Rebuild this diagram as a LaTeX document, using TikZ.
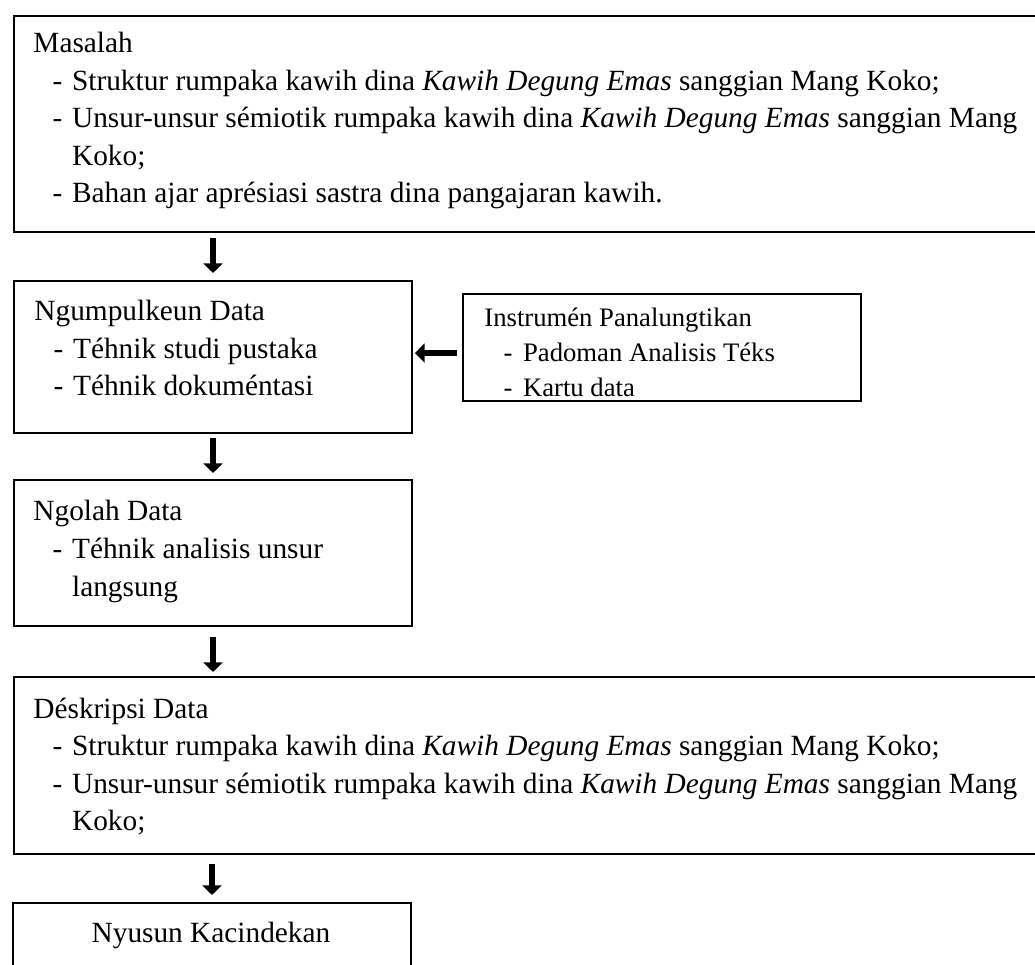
\documentclass[tikz,border=0pt]{standalone}
\usepackage{fontspec}
\setmainfont{Liberation Serif}
\usepackage{tikz}
\usetikzlibrary{arrows.meta}
\newcommand{\butir}[1]{\hspace*{8.6pt}\makebox[8.8pt][l]{-}#1}
\newcommand{\lanjut}{\hspace*{17.4pt}}
\tikzset{
	kotak/.style={draw,line width=0.9pt,anchor=north west,inner sep=0pt},
	isi/.style={anchor=base west,align=left,inner sep=0pt,font=\fontsize{13.2pt}{16.9pt}\selectfont},
	panah/.style={line width=3pt,-{Triangle[width=8.5pt,length=4.3pt]}}
}
\begin{document}
\begin{tikzpicture}[x=0.45pt,y=-0.45pt]
				\clip (0,0) rectangle (1035,965);
				\node [kotak,minimum width=464.4pt,minimum height=97.2pt] (masalah) at (13,15) {};
				\node [kotak,minimum width=179.1pt,minimum height=68.4pt] (ngumpul) at (13,280) {};
				\node [kotak,minimum width=179.1pt,minimum height=48.15pt] (instrumen) at (462,293) {};
				\node [kotak,minimum width=179.1pt,minimum height=65.7pt] (ngolah) at (13,479) {};
				\node [kotak,minimum width=464.4pt,minimum height=79.65pt] (deskripsi) at (13,676) {};
				\node [kotak,minimum width=179.1pt,minimum height=32.85pt] (nyusun) at (12,902) {};
				% anchor base west = baseline of the last line
				\node [isi] (masalah-isi) at (33,203) {Masalah\\
					\butir{Struktur rumpaka kawih dina \textit{Kawih Degung Emas} sanggian Mang Koko;}\\
					\butir{Unsur-unsur sémiotik rumpaka kawih dina \textit{Kawih Degung Emas} sanggian Mang}\\
					\lanjut Koko;\\
					\butir{Bahan ajar aprésiasi sastra dina pangajaran kawih.}};
				\node [isi] (ngumpul-isi) at (34,396) {Ngumpulkeun Data\\
					\butir{Téhnik studi pustaka}\\
					\butir{Téhnik dokuméntasi}};
				\node [isi,font=\fontsize{12pt}{15.75pt}\selectfont] (instrumen-isi) at (484,397) {Instrumén Panalungtikan\\
					\butir{Padoman Analisis Téks}\\
					\butir{Kartu data}};
				\node [isi,font=\fontsize{13.2pt}{17.3pt}\selectfont] (ngolah-isi) at (33,597) {Ngolah Data\\
					\butir{Téhnik analisis unsur}\\
					\lanjut langsung};
				\node [isi] (deskripsi-isi) at (33,831) {Déskripsi Data\\
					\butir{Struktur rumpaka kawih dina \textit{Kawih Degung Emas} sanggian Mang Koko;}\\
					\butir{Unsur-unsur sémiotik rumpaka kawih dina \textit{Kawih Degung Emas} sanggian Mang}\\
					\lanjut Koko;};
				\node [isi,anchor=base] (nyusun-isi) at (211,943) {Nyusun Kacindekan};
				\draw [panah] ([yshift=-2.25pt]masalah.south -| ngumpul.north) -- ([yshift=3.15pt]ngumpul.north);
				\draw [panah] ([yshift=-1.8pt]ngumpul.south) -- ([yshift=2.7pt]ngolah.north);
				\draw [panah] ([yshift=-4.5pt]ngolah.south) -- ([yshift=1.8pt]ngolah.south |- deskripsi.north);
				\draw [panah] ([yshift=-4pt]deskripsi.south -| nyusun.north) -- ([yshift=3.15pt]nyusun.north);
				\draw [panah] ([xshift=-2.25pt,yshift=-2.5pt]instrumen.west) -- ([xshift=0.9pt,yshift=-2.5pt]ngumpul.east |- instrumen.west);
			\end{tikzpicture}
\end{document}
